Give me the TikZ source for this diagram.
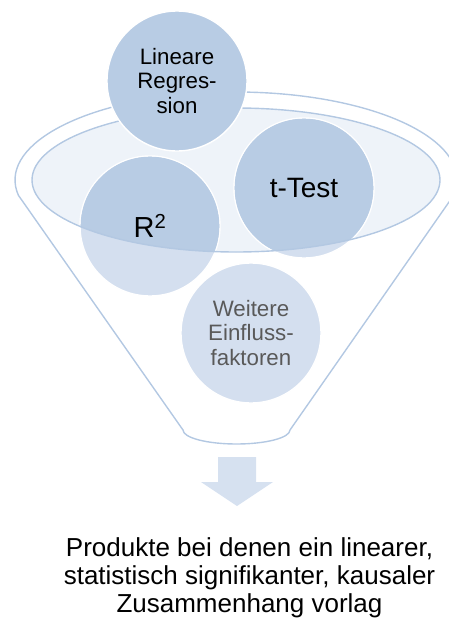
\documentclass[tikz,border=0pt]{standalone}
\usepackage{fontspec}
\setmainfont{Liberation Sans}
\definecolor{cdark}{HTML}{B8CCE4}
\definecolor{clight}{HTML}{D4DFEF}
\definecolor{cell}{HTML}{EEF3F9}
\definecolor{cline}{HTML}{B3C8E2}
\definecolor{carrow}{HTML}{D6E1F0}
\definecolor{cgray}{HTML}{595959}
\tikzset{
  bubble/.style={circle, minimum size=140pt, inner sep=0pt, draw=white, line width=1.4pt, align=center},
  funnelline/.style={draw=cline, line width=1.4pt},
}
\begin{document}
\begin{tikzpicture}[x=1pt,y=-1pt]
\useasboundingbox (0,0) rectangle (449,621);
\clip (0,0) rectangle (449,621);
% outer funnel outline
\draw[funnelline, line join=round]
  (18.4,195.3) arc[start angle=190, end angle=-10, x radius=221pt, y radius=88pt]
  -- (290,430) arc[start angle=0, end angle=-180, x radius=53.5pt, y radius=14pt]
  -- cycle;
% inner ellipse fill
\fill[cell] (236,180) ellipse[x radius=204pt, y radius=72pt];
% circles (light)
\node[bubble, fill=clight] (r2) at (150,226) {};
\node[bubble, fill=clight] (tt) at (304,188) {};
\node[bubble, fill=clight, text=cgray, font=\fontsize{22.3}{24.4}\selectfont] (wf) at (251,333) {Weitere\\Einfluss-\\faktoren};
% darker parts inside the ellipse
\begin{scope}
  \clip (236,180) ellipse[x radius=204pt, y radius=72pt];
  \fill[cdark] (r2.center) circle[radius=69.3pt];
  \fill[cdark] (tt.center) circle[radius=69.3pt];
\end{scope}
% ellipse border
\draw[funnelline] (236,180) ellipse[x radius=204pt, y radius=72pt];
% labels
\node[font=\fontsize{29}{34}\selectfont] at (r2.center) {R\textsuperscript{2}};
\node[font=\fontsize{28}{32}\selectfont] at (tt.center) {t-Test};
% top circle
\node[bubble, fill=cdark, font=\fontsize{22.3}{24.2}\selectfont] (lr) at (177,81) {Lineare\\Regres-\\sion};
% arrow
\fill[carrow] (218,457) -- (256,457) -- (256,482) -- (273,482) -- (237,506) -- (201,482) -- (218,482) -- cycle;
% result text
\node[align=center, font=\fontsize{26}{28}\selectfont] (res) at (249.5,578)
  {Produkte bei denen ein linearer,\\statistisch signifikanter, kausaler\\Zusammenhang vorlag};
\end{tikzpicture}
\end{document}
